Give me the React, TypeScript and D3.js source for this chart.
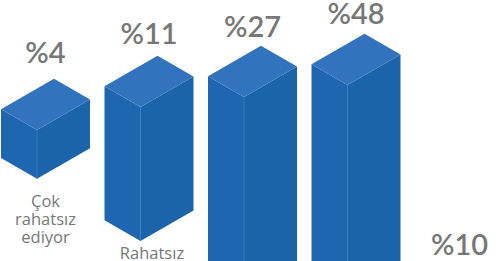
import React from "react";
import * as d3 from "d3";

// ---- data ----
const categories: string[][] = [["Çok", "rahatsız", "ediyor"], ["Rahatsız"], [], [], []];
const values: number[] = [4, 11, 27, 48, 10];
const valueLabels: string[] = values.map((v) => `%${v}`);

// ---- layout (not data) ----
const W = 500;
const H = 261;
const stagger = [130, 107, 97, 85, 318]; // front-top y of each block in the staircase
const catGap = [28, 18, 18, 18, 18];
const labelGap = [16, 12, 9, 10, 12];
const DEPTH = 36; // left face width
const WIDTH = 53; // right face width
const SLOPE = 0.577;

const COLORS = {
  top: "#3173bd",
  left: "#1f66b0",
  right: "#1b64a9",
  edge: "#3a7ec5",
  text: "#777777",
};

export default function App() {
  const x = d3.scaleLinear().domain([0, values.length - 1]).range([37, 451]);
  const h = d3.scaleLinear().domain([0, 11]).range([0, 134]);

  const pts = (arr: [number, number][]) => arr.map((p) => p.join(",")).join(" ");

  return (
    <svg
      width={W}
      height={H}
      viewBox={`0 0 ${W} ${H}`}
      style={{ position: "absolute", left: 0, top: 0, background: "#fff" }}
    >
      {values.map((v, i) => {
        const f = x(i);
        const t = stagger[i];
        const b = t + h(v);
        const dl = DEPTH * SLOPE;
        const dr = WIDTH * SLOPE;
        const left: [number, number][] = [
          [f - DEPTH, t - dl],
          [f, t],
          [f, b],
          [f - DEPTH, b - dl],
        ];
        const right: [number, number][] = [
          [f, t],
          [f + WIDTH, t - dr],
          [f + WIDTH, b - dr],
          [f, b],
        ];
        const top: [number, number][] = [
          [f - DEPTH, t - dl],
          [f - DEPTH + WIDTH, t - dl - dr],
          [f + WIDTH, t - dr],
          [f, t],
        ];
        const cx = f + (WIDTH - DEPTH) / 2;
        const apex = t - dl - dr;
        return (
          <g key={i}>
            <polygon points={pts(left)} fill={COLORS.left} />
            <polygon points={pts(right)} fill={COLORS.right} />
            <polygon points={pts(top)} fill={COLORS.top} />
            <line x1={f} y1={t} x2={f} y2={b} stroke={COLORS.edge} strokeWidth={0.8} />
            <text
              x={cx}
              y={apex - labelGap[i]}
              textAnchor="middle"
              fill={COLORS.text}
              fontFamily="Lato, 'Open Sans', sans-serif"
              fontWeight={600}
              fontSize={29}
            >
              {valueLabels[i]}
            </text>
            {categories[i].map((line, j) => (
              <text
                key={j}
                x={cx + (i === 1 ? 3 : 0)}
                y={b + catGap[i] + j * 18}
                textAnchor="middle"
                fill={COLORS.text}
                fontFamily="'Open Sans', Lato, sans-serif"
                fontWeight={500}
                fontSize={16.5}
              >
                {line}
              </text>
            ))}
          </g>
        );
      })}
    </svg>
  );
}
